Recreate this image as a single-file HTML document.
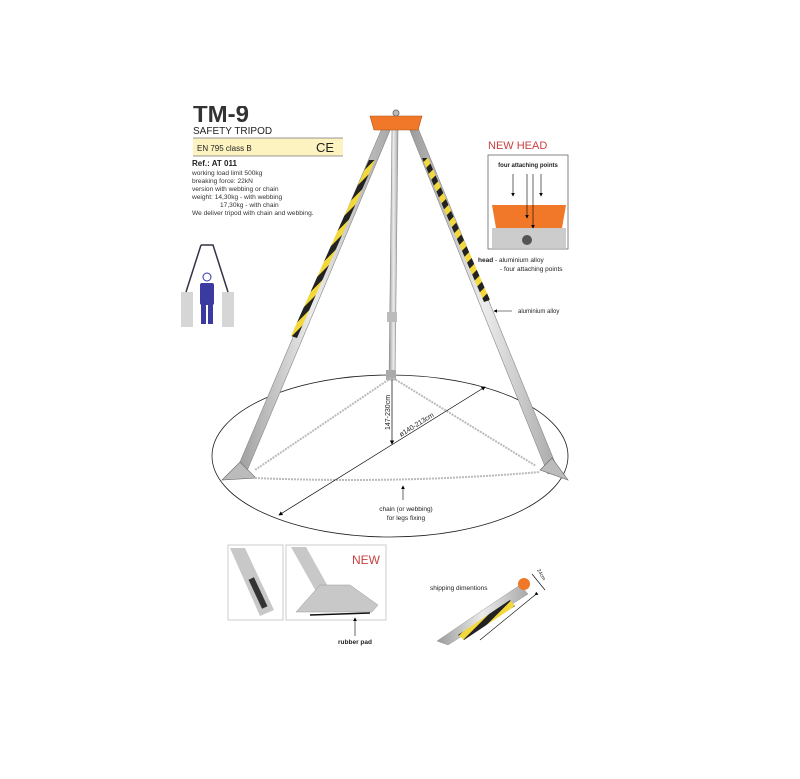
<!DOCTYPE html>
<html><head><meta charset="utf-8"><style>
html,body{margin:0;padding:0;background:#fff;}
svg{display:block;font-family:"Liberation Sans",Arial,sans-serif;}
</style></head><body>
<svg width="800" height="779" viewBox="0 0 800 779" xmlns="http://www.w3.org/2000/svg">
<defs>
<marker id="ar" markerWidth="6" markerHeight="6" refX="5" refY="3" orient="auto"><path d="M0,0 L6,3 L0,6 z" fill="#000"/></marker>
<linearGradient id="al" x1="0" x2="1"><stop offset="0" stop-color="#9a9a9a"/><stop offset="0.5" stop-color="#ececec"/><stop offset="1" stop-color="#a8a8a8"/></linearGradient>
<pattern id="hz" width="12" height="12" patternUnits="userSpaceOnUse" patternTransform="rotate(45)"><rect width="12" height="12" fill="#f2d83a"/><rect width="6" height="12" fill="#222"/></pattern>
<clipPath id="tc"><rect x="180" y="106" width="100" height="30"/></clipPath>
</defs>
<!-- text block -->
<text x="193" y="122" font-size="24" font-weight="bold" fill="#333" clip-path="url(#tc)">TM-9</text>
<text x="193" y="134" font-size="10" fill="#222">SAFETY TRIPOD</text>
<rect x="193" y="138" width="150" height="18" fill="#fdf3c0"/>
<line x1="193" y1="138" x2="343" y2="138" stroke="#777" stroke-width="0.7"/>
<line x1="193" y1="156" x2="343" y2="156" stroke="#777" stroke-width="0.7"/>
<text x="197" y="151" font-size="8" fill="#222">EN 795 class B</text>
<text x="316" y="152" font-size="13" fill="#222">CE</text>
<text x="192" y="166" font-size="8" font-weight="bold" fill="#222">Ref.: AT 011</text>
<g font-size="6.6" fill="#333">
<text x="192" y="175">working load limit 500kg</text>
<text x="192" y="183">breaking force: 22kN</text>
<text x="192" y="191">version with webbing or chain</text>
<text x="192" y="199">weight:  14,30kg - with webbing</text>
<text x="220" y="207">17,30kg - with chain</text>
<text x="192" y="215">We deliver tripod with chain and webbing.</text>
</g>
<!-- person icon -->
<rect x="181" y="292" width="12" height="35" fill="#d6d6d6"/>
<rect x="222" y="292" width="12" height="35" fill="#d6d6d6"/>
<path d="M201,245 L213,245 L228,292 M201,245 L186,292" stroke="#334" stroke-width="1.5" fill="none"/>
<circle cx="207" cy="277" r="4" fill="#fff" stroke="#33a" stroke-width="1"/>
<rect x="200" y="283" width="14" height="22" rx="2" fill="#3a3aa0"/>
<rect x="201" y="304" width="5" height="20" fill="#3a3aa0"/><rect x="208" y="304" width="5" height="20" fill="#3a3aa0"/>
<!-- ellipse -->
<ellipse cx="390" cy="456" rx="178" ry="81" fill="none" stroke="#222" stroke-width="0.8"/>
<!-- legs -->
<g stroke="#888" stroke-width="0.6">
<polygon points="382,128 391,128 244,478 234,476" fill="url(#al)"/>
<polygon points="409,128 418,128 558,470 548,474" fill="url(#al)"/>
<polygon points="392,128 398,128 395,380 389,380" fill="url(#al)"/>
</g>
<polygon points="369,160 375,160 297,338 291,336" fill="url(#hz)"/>
<polygon points="422,158 428,158 490,300 484,302" fill="url(#hz)"/>
<rect x="387" y="312" width="10" height="10" fill="#bbb"/>
<rect x="386" y="370" width="10" height="10" fill="#aaa"/>
<!-- feet -->
<polygon points="222,480 240,462 256,478" fill="#bbb" stroke="#666" stroke-width="0.6"/>
<polygon points="540,470 552,458 568,480" fill="#bbb" stroke="#666" stroke-width="0.6"/>
<!-- head -->
<polygon points="370,116 422,116 418,130 374,130" fill="#f07828" stroke="#b05010" stroke-width="0.6"/>
<circle cx="396" cy="113" r="3" fill="#bbb" stroke="#777"/>
<!-- chains -->
<g stroke="#bbb" stroke-width="2" stroke-dasharray="2 1" fill="none">
<path d="M391,378 L255,470"/>
<path d="M393,378 L536,466"/>
<path d="M255,478 Q400,484 540,472"/>
</g>
<!-- dimensions -->
<line x1="392" y1="380" x2="392" y2="444" stroke="#000" stroke-width="0.7" marker-end="url(#ar)"/>
<text transform="translate(390,430) rotate(-90)" font-size="7" fill="#222">147-230cm</text>
<line x1="385" y1="449" x2="485" y2="387" stroke="#000" stroke-width="0.7" marker-end="url(#ar)"/>
<line x1="385" y1="449" x2="279" y2="515" stroke="#000" stroke-width="0.7" marker-end="url(#ar)"/>
<text transform="translate(401,437) rotate(-32)" font-size="7" fill="#222">ø140-213cm</text>
<line x1="403" y1="500" x2="403" y2="486" stroke="#000" stroke-width="0.6" marker-end="url(#ar)"/>
<text x="406" y="511" font-size="6.5" text-anchor="middle" fill="#222">chain  (or webbing)</text>
<text x="406" y="520" font-size="6.5" text-anchor="middle" fill="#222">for legs fixing</text>
<!-- new head -->
<text x="488" y="149" font-size="11" fill="#c84040">NEW  HEAD</text>
<rect x="488" y="155" width="80" height="94" fill="#fff" stroke="#666" stroke-width="0.8"/>
<text x="528" y="167" font-size="6" font-weight="bold" text-anchor="middle" fill="#222">four attaching points</text>
<polygon points="492,205 566,205 562,228 496,228" fill="#f07828"/>
<rect x="492" y="228" width="74" height="20" fill="#ccc"/>
<circle cx="527" cy="240" r="5" fill="#555"/>
<g stroke="#000" stroke-width="0.6">
<line x1="513" y1="174" x2="513" y2="196" marker-end="url(#ar)"/>
<line x1="527" y1="174" x2="527" y2="218" marker-end="url(#ar)"/>
<line x1="533" y1="174" x2="533" y2="228" marker-end="url(#ar)"/>
<line x1="541" y1="174" x2="541" y2="196" marker-end="url(#ar)"/>
</g>
<text x="478" y="262" font-size="6.5" fill="#222"><tspan font-weight="bold">head</tspan>  - aluminium alloy</text>
<text x="500" y="271" font-size="6.5" fill="#222">- four attaching points</text>
<line x1="512" y1="311" x2="494" y2="311" stroke="#000" stroke-width="0.6" marker-end="url(#ar)"/>
<text x="518" y="313" font-size="6" fill="#222">aluminium alloy</text>
<!-- bottom photos -->
<rect x="228" y="545" width="55" height="75" fill="#fff" stroke="#ccc"/>
<polygon points="230,548 245,548 274,610 260,616" fill="#c8c8c8"/>
<rect x="255" y="577" width="6" height="32" fill="#333" transform="rotate(-25 258 593)"/>
<rect x="286" y="545" width="100" height="75" fill="#fff" stroke="#ccc"/>
<polygon points="291,547 306,547 330,590 318,595" fill="#c8c8c8"/>
<polygon points="296,612 320,585 350,585 378,605 372,612" fill="#c8c8c8" stroke="#999" stroke-width="0.5"/>
<line x1="310" y1="615" x2="370" y2="613" stroke="#111" stroke-width="1.5"/>
<text x="352" y="564" font-size="12" fill="#c84040">NEW</text>
<line x1="355" y1="636" x2="355" y2="618" stroke="#000" stroke-width="0.6" marker-end="url(#ar)"/>
<text x="355" y="644" font-size="6.5" font-weight="bold" text-anchor="middle" fill="#222">rubber pad</text>
<!-- shipping -->
<text x="430" y="590" font-size="6.5" fill="#222">shipping dimentions</text>
<polygon points="437,641 520,585 528,594 448,645" fill="url(#al)" stroke="#999" stroke-width="0.5"/>
<polygon points="458,635 510,600 515,606 464,640" fill="url(#hz)"/>
<circle cx="524" cy="584" r="6" fill="#f07828"/>
<line x1="532" y1="574" x2="545" y2="590" stroke="#000" stroke-width="0.6"/>
<line x1="535" y1="595" x2="480" y2="640" stroke="#000" stroke-width="0.6" marker-start="url(#ar)"/>
<text transform="translate(537,570) rotate(60)" font-size="5" fill="#222">24cm</text>
</svg>
</body></html>
